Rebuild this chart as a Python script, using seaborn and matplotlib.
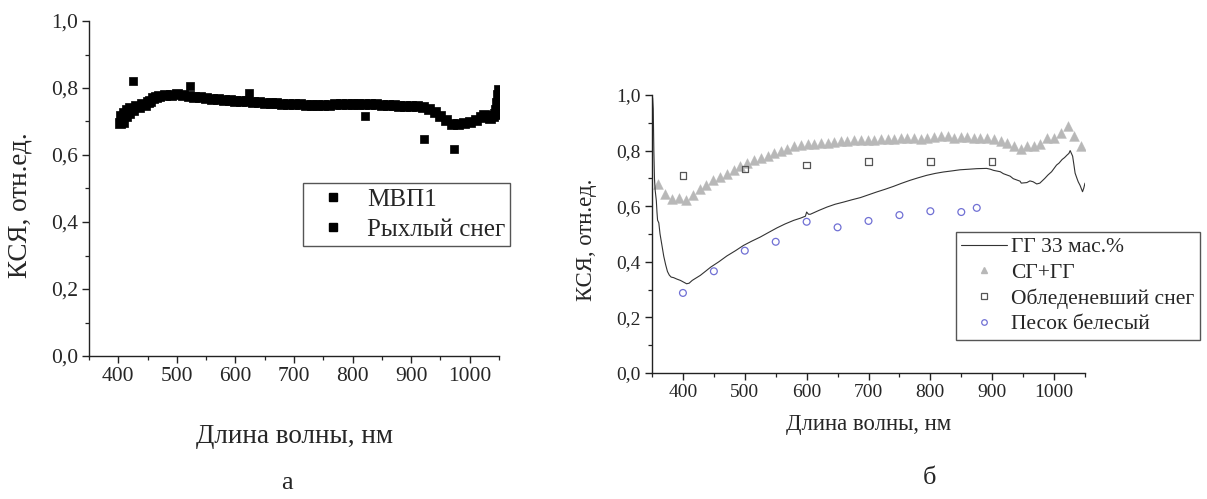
import numpy as np
import pandas as pd
import matplotlib
matplotlib.use("Agg")
import matplotlib.pyplot as plt
from matplotlib.ticker import MultipleLocator, FuncFormatter
from matplotlib.lines import Line2D
import seaborn as sns

# ---------- panel "а": spectra of МВП1 and loose snow ----------
mvp1_nm = [403, 405, 408, 410, 413, 415, 418, 420, 425, 430, 435, 440, 445, 450,
           455, 460, 465, 470, 480, 490, 500, 510, 520, 530, 540, 550, 560, 570,
           580, 590, 600, 610, 620, 630, 640, 650, 660, 670, 680, 690, 700, 710,
           720, 730, 740, 750, 760, 770, 780, 790, 800, 810, 820, 830, 840, 850,
           860, 870, 880, 890, 900, 910, 920, 930, 940, 950, 960, 970, 980, 990,
           1000, 1010, 1020, 1025, 1030, 1035, 1040, 1043, 1045, 1047, 1049, 1050]
mvp1_val = [0.695, 0.715, 0.700, 0.725, 0.715, 0.735, 0.725, 0.740, 0.735, 0.745,
            0.742, 0.752, 0.748, 0.758, 0.762, 0.770, 0.774, 0.776, 0.778, 0.780,
            0.781, 0.779, 0.777, 0.774, 0.772, 0.770, 0.768, 0.767, 0.765, 0.763,
            0.762, 0.761, 0.760, 0.758, 0.757, 0.756, 0.755, 0.754, 0.753, 0.752,
            0.751, 0.751, 0.750, 0.750, 0.750, 0.750, 0.750, 0.751, 0.751, 0.752,
            0.752, 0.752, 0.752, 0.752, 0.751, 0.750, 0.749, 0.748, 0.747, 0.746,
            0.745, 0.745, 0.743, 0.738, 0.728, 0.716, 0.703, 0.692, 0.693, 0.697,
            0.700, 0.704, 0.712, 0.718, 0.716, 0.711, 0.715, 0.722, 0.735, 0.755,
            0.780, 0.795]

snow_nm = [425, 523, 623, 822, 922, 974]
snow_val = [0.821, 0.806, 0.786, 0.717, 0.647, 0.618]

# ---------- panel "б" ----------
gg_nm = [351, 352, 353, 354, 355, 356, 357, 358, 359, 361, 363, 366, 369, 372, 375,
         378, 381, 385, 390, 396, 401, 406, 410, 415, 420, 428, 436, 445, 458, 471,
         485, 498, 511, 525, 538, 552, 565, 579, 590, 598, 600, 603, 606, 620, 633,
         646, 660, 673, 687, 700, 713, 727, 740, 753, 767, 780, 794, 808, 821, 835,
         848, 862, 875, 891, 897, 902, 913, 918, 929, 934, 945, 947, 956, 961, 966,
         972, 977, 985, 990, 996, 1004, 1008, 1013, 1017, 1021, 1024, 1026, 1028,
         1030, 1032, 1034, 1037, 1039, 1042, 1046, 1048, 1050]
gg_val = [0.99, 0.95, 0.80, 0.70, 0.66, 0.64, 0.62, 0.58, 0.55, 0.54, 0.50, 0.46,
          0.42, 0.39, 0.365, 0.352, 0.345, 0.343, 0.338, 0.333, 0.327, 0.321, 0.323,
          0.333, 0.340, 0.351, 0.365, 0.381, 0.400, 0.421, 0.440, 0.459, 0.474,
          0.489, 0.505, 0.522, 0.536, 0.549, 0.557, 0.564, 0.579, 0.571, 0.571,
          0.585, 0.597, 0.607, 0.615, 0.623, 0.631, 0.641, 0.651, 0.661, 0.671,
          0.682, 0.693, 0.702, 0.711, 0.718, 0.723, 0.727, 0.731, 0.733, 0.735,
          0.736, 0.733, 0.729, 0.724, 0.717, 0.708, 0.699, 0.690, 0.683, 0.685,
          0.691, 0.688, 0.680, 0.683, 0.700, 0.712, 0.724, 0.748, 0.755, 0.768,
          0.775, 0.784, 0.790, 0.800, 0.790, 0.780, 0.750, 0.719, 0.700, 0.688,
          0.675, 0.652, 0.665, 0.683]

sg_nm = [360, 371, 383, 394, 405, 416, 427, 438, 449, 460, 471, 482, 493, 504, 515,
         526, 537, 548, 558, 569, 580, 591, 602, 612, 623, 634, 645, 656, 666, 677,
         688, 699, 709, 720, 731, 742, 752, 763, 774, 785, 795, 806, 817, 828, 838,
         849, 860, 870, 881, 892, 903, 914, 924, 935, 946, 957, 968, 978, 989, 1000,
         1011, 1022, 1033, 1043]
sg_val = [0.681, 0.645, 0.625, 0.628, 0.621, 0.639, 0.661, 0.677, 0.693, 0.705,
          0.717, 0.729, 0.743, 0.755, 0.765, 0.775, 0.779, 0.791, 0.799, 0.806,
          0.815, 0.821, 0.823, 0.825, 0.827, 0.829, 0.831, 0.833, 0.835, 0.839,
          0.837, 0.837, 0.839, 0.840, 0.842, 0.843, 0.844, 0.847, 0.845, 0.843,
          0.847, 0.849, 0.851, 0.851, 0.847, 0.849, 0.849, 0.847, 0.847, 0.845,
          0.842, 0.836, 0.827, 0.817, 0.806, 0.818, 0.818, 0.824, 0.845, 0.847,
          0.864, 0.889, 0.853, 0.818]

ice_nm = [400, 500, 600, 700, 800, 900]
ice_val = [0.710, 0.734, 0.749, 0.760, 0.760, 0.760]

sand_nm = [400, 450, 500, 550, 600, 650, 700, 750, 800, 850, 875]
sand_val = [0.288, 0.366, 0.440, 0.472, 0.544, 0.524, 0.547, 0.568, 0.582, 0.579, 0.594]

x_ticks = [400, 500, 600, 700, 800, 900, 1000]
y_ticks = [0.0, 0.2, 0.4, 0.6, 0.8, 1.0]
x_label = "Длина волны, нм"
y_label = "КСЯ, отн.ед."

sns.set_theme(style="ticks")
plt.rcParams["font.family"] = ["Liberation Serif", "DejaVu Serif"]
plt.rcParams["axes.edgecolor"] = "#222222"
plt.rcParams["axes.linewidth"] = 1.0

W, H = 1207, 499
fig = plt.figure(figsize=(W / 100, H / 100), dpi=100)
fig.patch.set_facecolor("white")


def box(l, r, t, b):
    return [l / W, 1 - b / H, (r - l) / W, (b - t) / H]


ax_a = fig.add_axes(box(89, 499, 21, 356))
ax_b = fig.add_axes(box(652, 1085, 95, 373))

comma = FuncFormatter(lambda v, p: f"{v:.1f}".replace(".", ","))


def style_axes(ax, tick_fs, label_fs, xpad, ylab_xy):
    ax.set_xlim(350, 1050)
    ax.set_ylim(0.0, 1.0)
    ax.set_xticks(x_ticks)
    ax.set_yticks(y_ticks)
    ax.xaxis.set_minor_locator(MultipleLocator(50))
    ax.yaxis.set_minor_locator(MultipleLocator(0.1))
    ax.yaxis.set_major_formatter(comma)
    ax.tick_params(which="major", direction="out", length=5, width=1.0,
                   color="#222222", labelsize=tick_fs, pad=3)
    ax.tick_params(which="minor", direction="out", length=3, width=0.9,
                   color="#222222")
    for s in ("top", "right"):
        ax.spines[s].set_visible(False)
    ax.set_xlabel(x_label, fontsize=label_fs, labelpad=xpad)
    ax.set_ylabel(y_label, fontsize=label_fs)
    ax.yaxis.set_label_coords(*ylab_xy)
    ax.set_facecolor("white")


# panel а
df_mvp = pd.DataFrame({"nm": mvp1_nm, "val": mvp1_val})
df_snow = pd.DataFrame({"nm": snow_nm, "val": snow_val})
sns.scatterplot(data=df_mvp, x="nm", y="val", ax=ax_a, marker="s", s=52,
                color="black", edgecolor="black", linewidth=0.5)
sns.scatterplot(data=df_snow, x="nm", y="val", ax=ax_a, marker="s", s=30,
                color="black", edgecolor="black", linewidth=0.5)
style_axes(ax_a, 15.5, 19.5, 27, (-0.137, 0.451))
h_a = [Line2D([], [], ls="none", marker="s", ms=5.5, color="black"),
       Line2D([], [], ls="none", marker="s", ms=5.5, color="black")]
ax_a.legend(h_a, ["МВП1", "Рыхлый снег"], loc="upper left",
            bbox_to_anchor=((303 - 89) / 410, 1 - (183 - 21) / 335), fontsize=18,
            frameon=True, fancybox=False, edgecolor="#555555", framealpha=1,
            borderpad=0.2, handletextpad=0.36, labelspacing=0.3,
            handlelength=2.0, borderaxespad=0)

# panel б
df_gg = pd.DataFrame({"nm": gg_nm, "val": gg_val})
df_sg = pd.DataFrame({"nm": sg_nm, "val": sg_val})
df_ice = pd.DataFrame({"nm": ice_nm, "val": ice_val})
df_sand = pd.DataFrame({"nm": sand_nm, "val": sand_val})
sns.lineplot(data=df_gg, x="nm", y="val", ax=ax_b, color="#333333",
             linewidth=0.8, sort=False)
sns.scatterplot(data=df_sg, x="nm", y="val", ax=ax_b, marker="^", s=50,
                color="#b8b8b8", edgecolor="#b8b8b8", linewidth=0.3)
sns.scatterplot(data=df_ice, x="nm", y="val", ax=ax_b, marker="s", s=22,
                facecolor="none", edgecolor="#555555", linewidth=0.9)
sns.scatterplot(data=df_sand, x="nm", y="val", ax=ax_b, marker="o", s=24,
                facecolor="none", edgecolor="#7070d4", linewidth=0.9)
style_axes(ax_b, 14, 16.4, 9, (-0.127, 0.478))
h_b = [Line2D([], [], color="#333333", lw=0.8),
       Line2D([], [], ls="none", marker="^", ms=5, color="#b8b8b8"),
       Line2D([], [], ls="none", marker="s", ms=4, mfc="none", mec="#555555", mew=0.9),
       Line2D([], [], ls="none", marker="o", ms=4, mfc="none", mec="#7070d4", mew=0.9)]
ax_b.legend(h_b, ["ГГ 33 мас.%", "СГ+ГГ", "Обледеневший снег", "Песок белесый"],
            loc="upper left", bbox_to_anchor=((956 - 652) / 433, 1 - (232 - 95) / 278),
            fontsize=15.5, frameon=True, fancybox=False, edgecolor="#555555",
            framealpha=1, borderpad=0.25, handletextpad=0.2, labelspacing=0.25,
            handlelength=2.1, borderaxespad=0)

fig.text(287 / W, 1 - 483 / H, "а", fontsize=19, ha="center", va="center")
fig.text(930 / W, 1 - 478 / H, "б", fontsize=19, ha="center", va="center")

fig.savefig("out.png", dpi=100, facecolor="white")
